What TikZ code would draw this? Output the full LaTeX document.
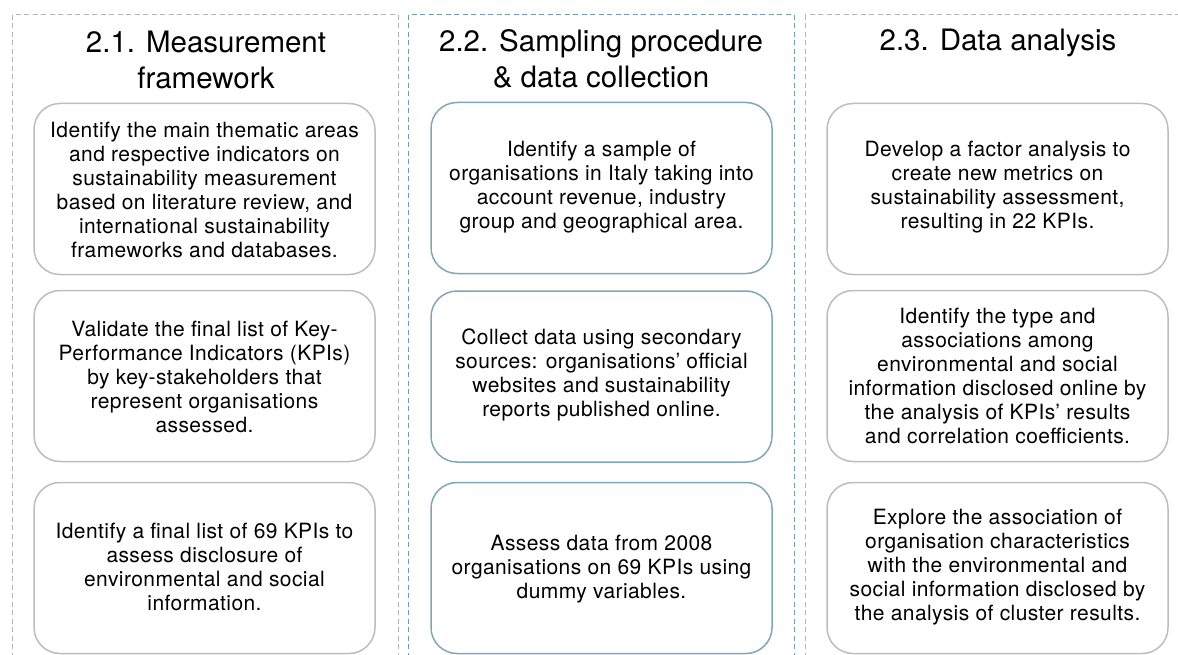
\documentclass[tikz,border=0pt]{standalone}
\usepackage{fontspec}
\setmainfont{TeX Gyre Heros}
\newfontfamily\bodyfont[LetterSpace=2.0]{TeX Gyre Heros}
\definecolor{frameGrey}{HTML}{B4B4B4}
\definecolor{frameTeal}{HTML}{6E9DAD}
\definecolor{boxGrey}{HTML}{BDBDBD}
\definecolor{boxTeal}{HTML}{7FA8B4}
\tikzset{
  colframe/.style={draw=#1, line width=1pt, dash pattern=on 5pt off 3.5pt},
  stagebox/.style={draw=#1, line width=1.5pt, rounded corners=26pt,
    minimum width=341pt, minimum height=171pt, inner sep=0pt},
  bodytext/.style={align=center, font=\bodyfont\fontsize{21}{24}\selectfont, text=black},
  headtext/.style={align=center, font=\fontsize{29.5}{36}\selectfont, text=black},
}
\begin{document}
\begin{tikzpicture}[x=1pt,y=-1pt]
\useasboundingbox (0,0) rectangle (1178,655);
\begin{scope}
\clip (0,0) rectangle (1178,655);
% dashed column frames, open at the bottom edge
\draw[colframe=frameGrey] (12,15) rectangle (398,700);
\draw[colframe=frameTeal] (408,15) rectangle (794,700);
\draw[colframe=frameGrey] (805,15) rectangle (1200,700);

% column headings
\node[headtext] (h1) at (206,60) {2.1. Measurement\\framework};
\node[headtext] (h2) at (601,59) {2.2. Sampling procedure\\\& data collection};
\node[headtext] (h3) at (998,43) {2.3. Data analysis};

% 2.1 measurement framework
\node[stagebox=boxGrey] (a1) at (204.5,189) {};
\node[bodytext] (a1t) at (204.5,190) {Identify the main thematic areas\\and respective indicators on\\sustainability measurement\\based on literature review, and\\international sustainability\\frameworks and databases.};
\node[stagebox=boxGrey] (a2) at (204.5,376) {};
\node[bodytext] (a2t) at (204.5,377) {Validate the final list of Key-\\Performance Indicators (KPIs)\\by key-stakeholders that\\represent organisations\\assessed.};
\node[stagebox=boxGrey] (a3) at (204.5,568) {};
\node[bodytext] (a3t) at (204.5,567) {Identify a final list of 69 KPIs to\\assess disclosure of\\environmental and social\\information.};

% 2.2 sampling procedure & data collection
\node[stagebox=boxTeal] (b1) at (601.5,188) {};
\node[bodytext] (b1t) at (601.5,187) {Identify a sample of\\organisations in Italy taking into\\account revenue, industry\\group and geographical area.};
\node[stagebox=boxTeal] (b2) at (601.5,376.5) {};
\node[bodytext] (b2t) at (601.5,375) {Collect data using secondary\\sources: organisations’ official\\websites and sustainability\\reports published online.};
\node[stagebox=boxTeal] (b3) at (601.5,568) {};
\node[bodytext] (b3t) at (601.5,569) {Assess data from 2008\\organisations on 69 KPIs using\\dummy variables.};

% 2.3 data analysis
\node[stagebox=boxGrey] (c1) at (997.5,189) {};
\node[bodytext] (c1t) at (997.5,187) {Develop a factor analysis to\\create new metrics on\\sustainability assessment,\\resulting in 22 KPIs.};
\node[stagebox=boxGrey] (c2) at (997.5,376) {};
\node[bodytext] (c2t) at (997.5,376) {Identify the type and\\associations among\\environmental and social\\information disclosed online by\\the analysis of KPIs’ results\\and correlation coefficients.};
\node[stagebox=boxGrey] (c3) at (997.5,568) {};
\node[bodytext] (c3t) at (997.5,567) {Explore the association of\\organisation characteristics\\with the environmental and\\social information disclosed by\\the analysis of cluster results.};
\end{scope}
\end{tikzpicture}
\end{document}
